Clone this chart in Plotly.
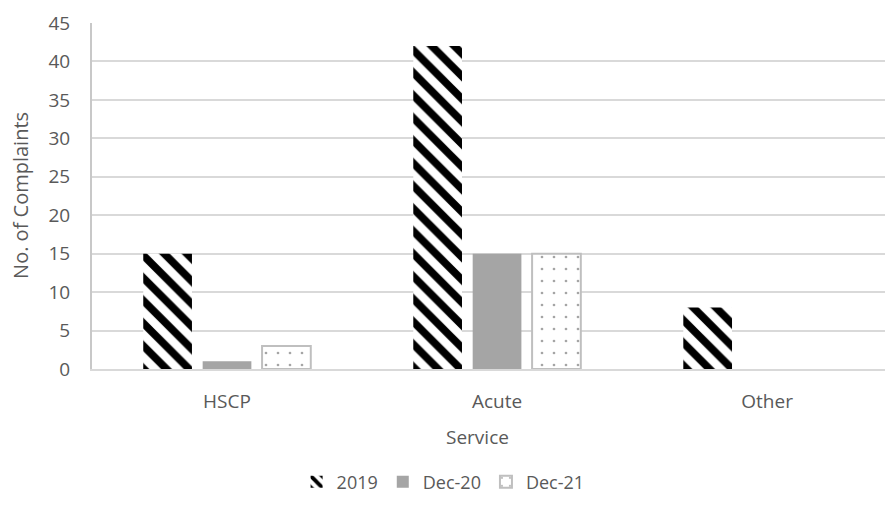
import plotly.graph_objects as go

categories = ["HSCP", "Acute", "Other"]
series_names = ["2019", "Dec-20", "Dec-21"]
values_2019 = [15, 42, 8]
values_dec20 = [1, 15, 0]
values_dec21 = [3, 15, 0]
y_ticks = [0, 5, 10, 15, 20, 25, 30, 35, 40, 45]

FONT = "Open Sans"
TXT = "#595959"

fig = go.Figure()
fig.add_trace(go.Bar(
    name=series_names[0], x=categories, y=values_2019,
    marker=dict(color="white", line=dict(width=0),
                pattern=dict(shape="\\", fgcolor="black", bgcolor="white", fgopacity=1,
                             size=16, solidity=0.48, fillmode="replace")),
))
fig.add_trace(go.Bar(
    name=series_names[1], x=categories, y=values_dec20,
    marker=dict(color="#A5A5A5", line=dict(width=0)),
))
fig.add_trace(go.Bar(
    name=series_names[2], x=categories, y=values_dec21,
    marker=dict(color="white",
                line=dict(color="#BFBFBF", width=[2 if v > 0 else 0 for v in values_dec21]),
                pattern=dict(shape=".", fgcolor="#A5A5A5", bgcolor="white", fgopacity=1,
                             size=12, solidity=0.04, fillmode="replace")),
))

fig.update_layout(
    width=893, height=516,
    margin=dict(l=84, r=0, t=15, b=155, autoexpand=False),
    paper_bgcolor="white", plot_bgcolor="white",
    barmode="group", bargap=0.34, bargroupgap=0.18,
    font=dict(family=FONT, size=19, color=TXT),
    showlegend=True,
    legend=dict(orientation="h", x=0.434, xanchor="center", y=-0.327, yanchor="middle",
                font=dict(family=FONT, size=18, color=TXT), itemwidth=30,
                tracegroupgap=0, traceorder="normal"),
    xaxis=dict(range=[-0.5, 2.496], showgrid=False, showline=True, automargin=False,
               linecolor="#D9D9D9", linewidth=2, ticks="", ticklabelstandoff=14,
               tickfont=dict(family=FONT, size=19, color=TXT)),
    yaxis=dict(range=[0, 45], tickvals=y_ticks, showgrid=True, gridcolor="#D9D9D9",
               gridwidth=1.5, showline=True, linecolor="#C8C8C8", linewidth=2,
               ticks="", ticklabelstandoff=16, zeroline=False, automargin=False,
               tickfont=dict(family=FONT, size=19, color=TXT)),
    annotations=[
        dict(text="Service", xref="paper", yref="paper", x=0.476, y=-0.197,
             showarrow=False, xanchor="center", yanchor="middle",
             font=dict(family=FONT, size=19, color=TXT)),
        dict(text="No. of Complaints", xref="paper", yref="paper", x=-0.0878, y=0.503,
             showarrow=False, xanchor="center", yanchor="middle", textangle=-90,
             font=dict(family=FONT, size=20, color=TXT)),
    ],
)

fig.write_html("out.html")
